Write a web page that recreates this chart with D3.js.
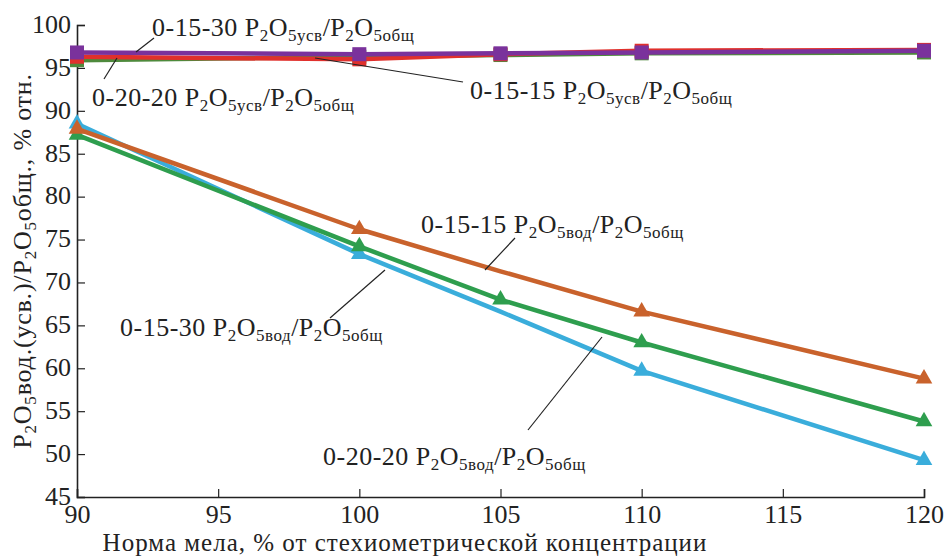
<!DOCTYPE html>
<html>
<head>
<meta charset="utf-8">
<script src="https://cdn.jsdelivr.net/npm/d3@7"></script>
<style>
  body { margin: 0; background: #fff; }
</style>
</head>
<body>
<svg id="chart" width="945" height="556"></svg>
<script>
// data
var xVals = [90, 100, 105, 110, 120];
var xTicks = [90, 95, 100, 105, 110, 115, 120];
var yTicks = [45, 50, 55, 60, 65, 70, 75, 80, 85, 90, 95, 100];

var usv_0_20_20 = [95.9, 96.3, 96.5, 96.7, 96.8];
var usv_0_15_15 = [96.3, 96.0, 96.6, 97.0, 97.1];
var usv_0_15_30 = [96.8, 96.6, 96.7, 96.8, 97.0];

var vod_0_15_30 = [88.5, 73.3, 66.6, 59.7, 49.3];
var vod_0_20_20 = [87.2, 74.2, 68.0, 63.0, 53.8];
var vod_0_15_15 = [87.9, 76.2, 71.3, 66.6, 58.8];
// which points carry a marker (vod curves)
var vodMarked = [[0, 1, 3, 4], [0, 1, 2, 3, 4], [0, 1, 3, 4]];

var FONT = "Liberation Serif";

var series = [
  { vals: usv_0_20_20, color: "#4e8a3c", shape: "square", marks: [0, 1, 2, 3, 4] },
  { vals: usv_0_15_15, color: "#e0302c", shape: "square", marks: [0, 1, 2, 3, 4] },
  { vals: usv_0_15_30, color: "#7a329c", shape: "square", marks: [0, 1, 2, 3, 4] },
  { vals: vod_0_15_30, color: "#3aaddb", shape: "tri", marks: vodMarked[0] },
  { vals: vod_0_20_20, color: "#2e9e4e", shape: "tri", marks: vodMarked[1] },
  { vals: vod_0_15_15, color: "#c9622c", shape: "tri", marks: vodMarked[2] }
];

var svg = d3.select("#chart");
var x = d3.scaleLinear().domain([90, 120]).range([77, 924]);
var y = d3.scaleLinear().domain([45, 100]).range([497, 25]);

// axes, ticks inward
var xAxis = svg.append("g").attr("transform", "translate(0,497)")
  .call(d3.axisBottom(x).tickValues(xTicks).tickSize(-8).tickPadding(10));
var yAxis = svg.append("g").attr("transform", "translate(77,0)")
  .call(d3.axisLeft(y).tickValues(yTicks).tickSize(-8).tickPadding(6));
[xAxis, yAxis].forEach(function (a) {
  a.attr("font-family", FONT).attr("font-size", 26);
  a.select(".domain").attr("stroke", "#222").attr("stroke-width", 1.6);
  a.selectAll(".tick line").attr("stroke", "#222").attr("stroke-width", 1.2);
  a.selectAll(".tick text").attr("fill", "#222");
});
xAxis.selectAll(".tick text").attr("dy", "0.62em");
yAxis.selectAll(".tick text").attr("dy", "0.28em");

var line = d3.line().x(function (d, i) { return x(xVals[i]); }).y(function (d) { return y(d); });

series.forEach(function (s) {
  svg.append("path").datum(s.vals)
    .attr("d", line).attr("fill", "none")
    .attr("stroke", s.color).attr("stroke-width", 4.5).attr("stroke-linejoin", "round");
  s.marks.forEach(function (i) {
    var cx = x(xVals[i]), cy = y(s.vals[i]);
    if (s.shape === "square") {
      svg.append("rect").attr("x", cx - 7).attr("y", cy - 7)
        .attr("width", 14).attr("height", 14).attr("fill", s.color);
    } else {
      svg.append("path").attr("transform", "translate(" + cx + "," + cy + ")")
        .attr("d", d3.symbol().type(d3.symbolTriangle).size(120)())
        .attr("fill", s.color);
    }
  });
});

// annotation labels with leader lines
var labels = [
  { x: 152, y: 36, set: "0-15-30", kind: "усв", line: [154, 38, 136, 52] },
  { x: 92, y: 106, set: "0-20-20", kind: "усв", line: [104, 79, 117, 58] },
  { x: 470, y: 99, set: "0-15-15", kind: "усв", line: [463, 82, 315, 58] },
  { x: 421, y: 233, set: "0-15-15", kind: "вод", line: [515, 238, 485, 270] },
  { x: 120, y: 336, set: "0-15-30", kind: "вод", line: [385, 270, 330, 318] },
  { x: 323, y: 465, set: "0-20-20", kind: "вод", line: [602, 337, 528, 430] }
];

function sub(t, s) {
  t.append("tspan").text(s).attr("dy", 5).attr("font-size", 17);
}
function norm(t, s) {
  t.append("tspan").text(s).attr("dy", -5);
}

labels.forEach(function (l) {
  svg.append("line")
    .attr("x1", l.line[0]).attr("y1", l.line[1]).attr("x2", l.line[2]).attr("y2", l.line[3])
    .attr("stroke", "#222").attr("stroke-width", 1.2);
  var t = svg.append("text").attr("x", l.x).attr("y", l.y)
    .attr("fill", "#222").attr("font-family", FONT).attr("font-size", 26)
    .attr("letter-spacing", 0.5);
  t.append("tspan").text(l.set + " P");
  sub(t, "2"); norm(t, "O"); sub(t, "5" + l.kind);
  norm(t, "/P"); sub(t, "2"); norm(t, "O"); sub(t, "5общ");
});

// axis titles
svg.append("text").attr("x", 405).attr("y", 551).attr("text-anchor", "middle")
  .attr("fill", "#222").attr("font-family", FONT).attr("font-size", 25)
  .attr("letter-spacing", 1)
  .text("Норма мела, % от стехиометрической концентрации");

var yt = svg.append("text").attr("transform", "translate(31,261) rotate(-90)")
  .attr("text-anchor", "middle").attr("fill", "#222")
  .attr("font-family", FONT).attr("font-size", 26).attr("letter-spacing", 0.8);
yt.append("tspan").text("P");
sub(yt, "2"); norm(yt, "O"); sub(yt, "5");
norm(yt, "вод.(усв.)/P"); sub(yt, "2"); norm(yt, "O"); sub(yt, "5");
norm(yt, "общ., % отн.");
</script>
</body>
</html>
